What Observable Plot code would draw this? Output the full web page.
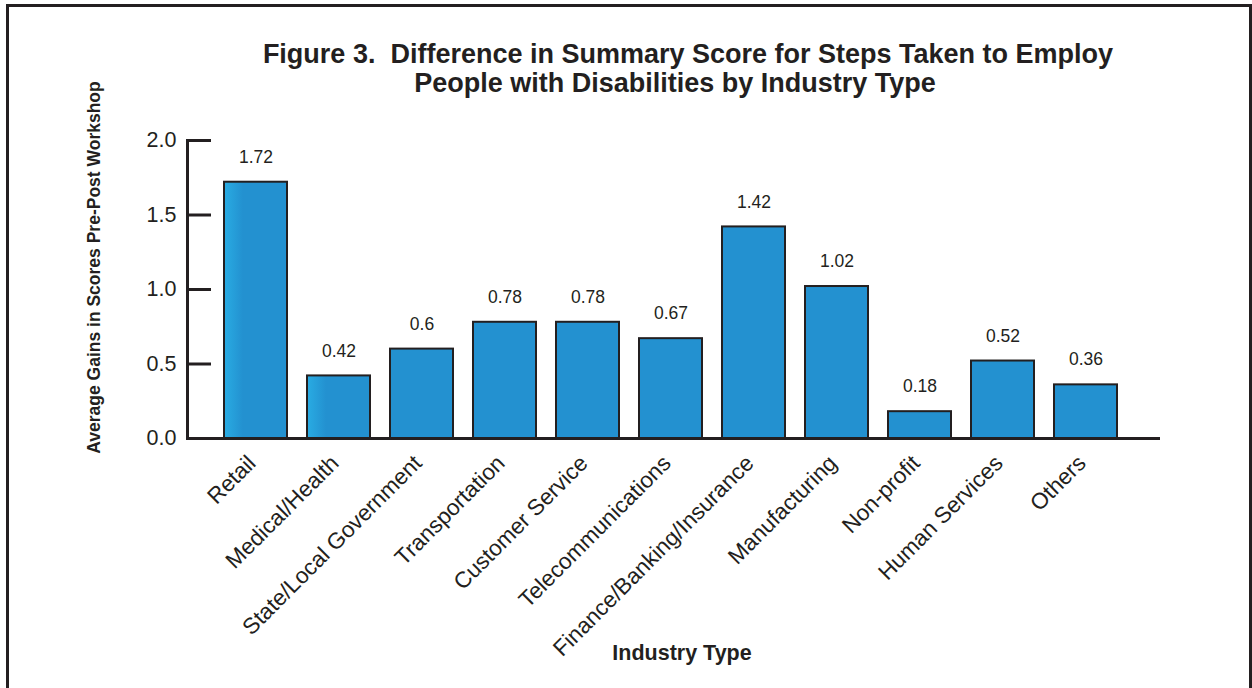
<!DOCTYPE html>
<html>
<head>
<meta charset="utf-8">
<script src="https://cdn.jsdelivr.net/npm/d3@7"></script>
<script src="https://cdn.jsdelivr.net/npm/@observablehq/plot@0.6"></script>
<style>
  html, body { margin: 0; padding: 0; background: #fff; }
  body { width: 1252px; height: 688px; overflow: hidden; position: relative; font-family: "Liberation Sans", Arial, sans-serif; }
  #frame { position: absolute; left: 6px; top: 4px; width: 1246px; height: 720px; box-sizing: border-box;
           border-top: 3px solid #231f20; border-left: 3px solid #231f20; border-right: 3px solid #231f20; }
  .title { position: absolute; width: 1000px; text-align: center; white-space: nowrap;
           font-weight: bold; font-size: 27px; line-height: 28px; color: #231f20; }
  #t1 { left: 188px; top: 40px; }
  #t2 { left: 175px; top: 69px; }
  #chart { position: absolute; left: 0; top: 0; }
</style>
</head>
<body>
<svg width="0" height="0" style="position:absolute">
  <defs>
    <linearGradient id="barGrad" x1="0" y1="0" x2="1" y2="0">
      <stop offset="0" stop-color="#29ace3"/>
      <stop offset="0.3" stop-color="#2391d0"/>
      <stop offset="1" stop-color="#2391d0"/>
    </linearGradient>
  </defs>
</svg>
<div id="frame"></div>
<div id="chart"></div>
<div class="title" id="t1">Figure 3.&nbsp; Difference in Summary Score for Steps Taken to Employ</div>
<div class="title" id="t2">People with Disabilities by Industry Type</div>
<script>
const industries = ["Retail", "Medical/Health", "State/Local Government", "Transportation", "Customer Service",
  "Telecommunications", "Finance/Banking/Insurance", "Manufacturing", "Non-profit", "Human Services", "Others"];
const gains = [1.72, 0.42, 0.6, 0.78, 0.78, 0.67, 1.42, 1.02, 0.18, 0.52, 0.36];
const gradientBars = ["Retail", "Medical/Health"];
const yTicks = [0, 0.5, 1.0, 1.5, 2.0];
const yLabel = "Average Gains in Scores Pre-Post Workshop";
const xLabel = "Industry Type";

const data = industries.map((k, i) => ({industry: k, value: gains[i]}));
const ink = "#231f20";

const chart = Plot.plot({
  width: 1252,
  height: 688,
  marginTop: 140,
  marginBottom: 250,
  marginLeft: 187,
  marginRight: 92,
  style: {fontFamily: "Liberation Sans, Arial, sans-serif", color: ink, background: "transparent"},
  x: {type: "band", domain: industries, range: [220, 1121], paddingInner: 0.235, paddingOuter: 0},
  y: {domain: [0, 2]},
  marks: [
    Plot.barY(data.filter(d => gradientBars.includes(d.industry)), {x: "industry", y: "value", fill: "url(#barGrad)", stroke: ink, strokeWidth: 2}),
    Plot.barY(data.filter(d => !gradientBars.includes(d.industry)), {x: "industry", y: "value", fill: "#2391d0", stroke: ink, strokeWidth: 2}),
    Plot.text(data, {x: "industry", y: "value", text: d => String(d.value), dy: -25, fontSize: 17.5, fill: ink}),
    Plot.ruleY([0], {stroke: ink, strokeWidth: 3}),
    Plot.frame({anchor: "left", stroke: ink, strokeWidth: 3}),
    Plot.axisY({ticks: yTicks, tickFormat: d => d.toFixed(1), tickSize: -24, tickPadding: 35, fontSize: 21.5, strokeWidth: 3, stroke: ink, fill: ink, label: null}),
    Plot.axisX({tickRotate: -45, tickSize: 0, tickPadding: 21, dx: -4, fontSize: 22.5, fill: ink, label: null}),
    Plot.text([yLabel], {frameAnchor: "left", textAnchor: "middle", rotate: -90, dx: -93, dy: -22, fontSize: 17.5, fontWeight: "bold", fill: ink}),
    Plot.text([xLabel], {frameAnchor: "bottom", dx: 8, dy: 221, fontSize: 21.5, fontWeight: "bold", fill: ink})
  ]
});
document.getElementById("chart").appendChild(chart);
</script>
</body>
</html>
